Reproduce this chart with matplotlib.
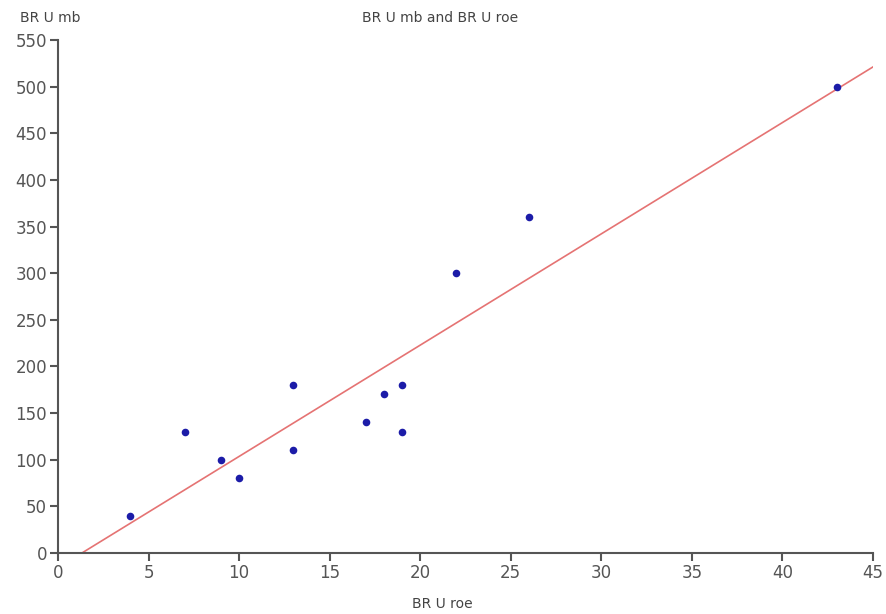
import numpy as np
import matplotlib.pyplot as plt

# data
roe = [4, 7, 9, 10, 13, 13, 17, 18, 19, 19, 22, 26, 43]
mb = [40, 130, 100, 80, 110, 180, 140, 170, 180, 130, 300, 360, 500]
xticks = list(range(0, 50, 5))
yticks = list(range(0, 600, 50))

fig = plt.figure(figsize=(8.86, 6.14), dpi=100)
ax = fig.add_axes([58 / 886, 1 - 553 / 614, (873 - 58) / 886, (553 - 40) / 614])

axis_col = '#555555'
ax.scatter(roe, mb, s=30, color='#1c1ca8', zorder=3, linewidths=0)

# least-squares trend line, drawn from where it crosses 0 out to the right edge
slope, icpt = np.polyfit(roe, mb, 1)
xs = np.array([-icpt / slope, 45])
ax.plot(xs, slope * xs + icpt, color='#e57373', linewidth=1.2, zorder=2)

ax.set_xlim(0, 45)
ax.set_ylim(0, 550)
ax.set_xticks(xticks)
ax.set_yticks(yticks)
for s in ['top', 'right']:
    ax.spines[s].set_visible(False)
for s in ['left', 'bottom']:
    ax.spines[s].set_color(axis_col)
    ax.spines[s].set_linewidth(1.5)
ax.tick_params(colors=axis_col, labelcolor='#555555', labelsize=12, length=6, width=1.5, pad=2)

fig.text(20 / 886, 1 - 18 / 614, 'BR U mb', fontsize=10, color='#444444', va='center', ha='left')
fig.text(440 / 886, 1 - 18 / 614, 'BR U mb and BR U roe', fontsize=10, color='#444444', va='center', ha='center')
fig.text(442 / 886, 1 - 604 / 614, 'BR U roe', fontsize=10, color='#444444', va='center', ha='center')

fig.savefig('out.png', dpi=100)
